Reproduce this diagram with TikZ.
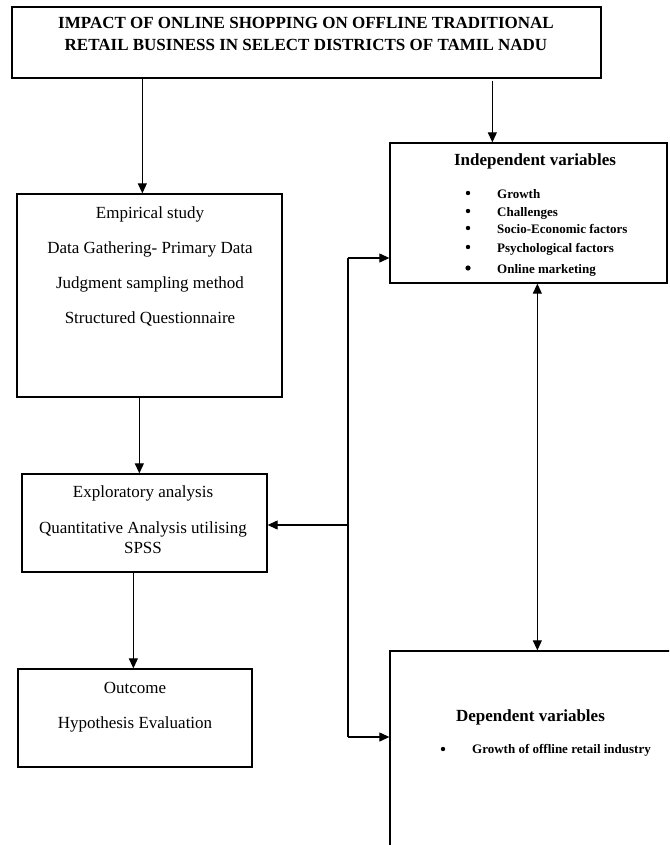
\documentclass[tikz,border=0pt]{standalone}
\usepackage{fontspec}
\setmainfont{Liberation Serif}
\usetikzlibrary{arrows.meta, positioning, calc}

\begin{document}
\begin{tikzpicture}[x=1pt, y=-1pt, >={Triangle[length=10pt, width=9pt]},
  box/.style={draw, line width=1.3pt, rectangle, inner sep=0pt},
  link/.style={->, line width=1.1pt},
  txt/.style={anchor=base, inner sep=0pt, font=\fontsize{17}{20}\selectfont},
  head/.style={anchor=base, inner sep=0pt, font=\bfseries\fontsize{17}{20}\selectfont},
  item/.style={anchor=base west, inner sep=0pt, font=\bfseries\fontsize{13}{15}\selectfont}]
  \clip (0,0) rectangle (669,845);

  % Boxes
  \node[box, minimum width=589pt, minimum height=71pt] (title) at (306.5,42.5) {};
  \node[box, minimum width=277pt, minimum height=140pt] (indep) at (528.5,213) {};
  \node[box, minimum width=265pt, minimum height=203pt] (emp) at (149.5,295.5) {};
  \node[box, minimum width=245pt, minimum height=98pt] (expl) at (144.5,523) {};
  \node[box, minimum width=234pt, minimum height=98pt] (outc) at (135,718) {};
  \node[box, minimum width=330pt, minimum height=249pt] (dep) at (555,775.5) {};

  % Title
  \node[head] (title1) at (306,29) {IMPACT OF ONLINE SHOPPING ON OFFLINE TRADITIONAL};
  \node[head] (title2) at (306,51) {RETAIL BUSINESS IN SELECT DISTRICTS OF TAMIL NADU};

  % Independent variables
  \node[head] (indepHead) at (535,166) {Independent variables};
  \node[item] (ivGrowth) at (497,198) {Growth};
  \node[item] (ivChall) at (497,216) {Challenges};
  \node[item] (ivSocio) at (497,233) {Socio-Economic factors};
  \node[item] (ivPsych) at (497,252) {Psychological factors};
  \node[item] (ivOnline) at (497,273) {Online marketing};
  \foreach \yy in {193,211,228,247} \fill (468,\yy) circle (2.2pt);
  \fill (468,268) circle (2.6pt);

  % Empirical study
  \node[txt] (emp1) at (150,218) {Empirical study};
  \node[txt] (emp2) at (150,253) {Data Gathering- Primary Data};
  \node[txt] (emp3) at (150,288) {Judgment sampling method};
  \node[txt] (emp4) at (150,323) {Structured Questionnaire};

  % Exploratory analysis
  \node[txt] (expl1) at (143,497) {Exploratory analysis};
  \node[txt] (expl2) at (143,533) {Quantitative Analysis utilising};
  \node[txt] (expl3) at (143,553) {SPSS};

  % Outcome
  \node[txt] (outc1) at (135,693) {Outcome};
  \node[txt] (outc2) at (135,728) {Hypothesis Evaluation};

  % Dependent variables
  \node[head] (depHead) at (530.5,721) {Dependent variables};
  \node[item] (dvGrowth) at (472,753) {Growth of offline retail industry};
  \fill (443,749) circle (2.2pt);

  % Flow arrows
  \draw[link] ([xshift=131pt]title.south west) -- ([xshift=126pt]emp.north west);
  \draw[link] ([xshift=481pt, yshift=-2pt]title.south west) -- ([xshift=103pt]indep.north west);
  \draw[link] ([xshift=123pt]emp.south west) -- ([xshift=118pt]expl.north west);
  \draw[link] ([xshift=112pt]expl.south west) -- ([xshift=116pt]outc.north west);
  \draw[link, <->] ([xshift=148pt]indep.south west) -- ([xshift=148pt]dep.north west);

  % Feedback line
  \coordinate (fbTop) at (348,258);
  \coordinate (fbMid) at (348,525);
  \coordinate (fbBot) at (348,737);
  \draw[line width=1.1pt] (fbTop) -- (fbBot);
  \draw[link] (fbTop) -- (fbTop -| indep.west);
  \draw[link] (fbMid) -- (fbMid -| expl.east);
  \draw[link] (fbBot) -- (fbBot -| dep.west);
\end{tikzpicture}
\end{document}
